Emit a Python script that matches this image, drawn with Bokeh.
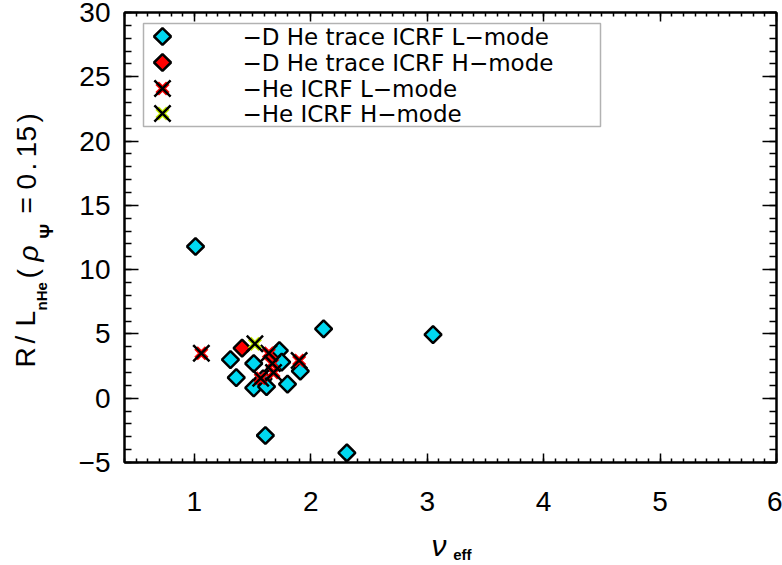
import numpy as np
from bokeh.plotting import figure
from bokeh.layouts import row, column
from bokeh.models import Range1d, LinearAxis, FixedTicker, Label, BoxAnnotation
from bokeh.embed import file_html
from bokeh.resources import INLINE

# ---------------- data ----------------
# D with He trace, ICRF, L-mode (cyan diamonds)
dL_x = [1.01, 1.31, 1.36, 1.51, 1.51, 1.59, 1.62, 1.61, 1.73, 1.75, 1.80, 1.91, 2.11, 2.31, 3.05]
dL_y = [11.8, 3.0, 1.6, 2.7, 0.8, 1.5, 0.9, -2.9, 3.7, 2.8, 1.1, 2.1, 5.4, -4.25, 4.95]
# D with He trace, ICRF, H-mode (red diamonds)
dH_x = [1.41]
dH_y = [3.9]
# He ICRF L-mode (red crosses)
heL_x = [1.06, 1.57, 1.64, 1.67, 1.68, 1.90]
heL_y = [3.5, 1.55, 3.5, 2.7, 2.0, 2.93]
# He ICRF H-mode (yellow crosses)
heH_x = [1.52]
heH_y = [4.23]

labels = ["\u2212D He trace ICRF L\u2212mode",
          "\u2212D He trace ICRF H\u2212mode",
          "\u2212He ICRF L\u2212mode",
          "\u2212He ICRF H\u2212mode"]

x_ticks = [1, 2, 3, 4, 5, 6]
y_ticks = [-5, 0, 5, 10, 15, 20, 25, 30]
XMIN, XMAX = 0.4, 6.0
YMIN, YMAX = -5.0, 30.0

# ---------------- layout (pixels of the 782 x 565 page) ----------------
W, H = 782, 565
TW = 60                      # strip on the left holding the y title
XTH = 35                     # strip at the bottom holding the x title
FL, FT, FR, FB = 124, 12, 776, 462   # plot frame in page pixels
MW = W - TW
MH = H - XTH

CYAN = "#00d8f0"
RED = "#ff0000"
YELLOW = "#c8f000"
TICKFONT = "Liberation Sans"


def dx(px):
    return XMIN + (px - FL) * (XMAX - XMIN) / (FR - FL)


def dy(py):
    return YMAX - (py - FT) * (YMAX - YMIN) / (FB - FT)


p = figure(width=MW, height=MH, x_range=Range1d(XMIN, XMAX), y_range=Range1d(YMIN, YMAX),
           output_backend="svg", toolbar_location=None,
           min_border_left=FL - TW, min_border_right=W - FR,
           min_border_top=FT, min_border_bottom=MH - FB)
p.xgrid.visible = False
p.ygrid.visible = False
p.outline_line_color = "black"
p.outline_line_width = 2
p.background_fill_color = "white"
p.border_fill_color = "white"

x_minor = list(np.round(np.arange(XMIN, XMAX + 1e-9, 0.1), 2))
y_minor = list(range(int(YMIN), int(YMAX) + 1))


def style_axis(ax, major_in, minor_in, show_labels, standoff=0):
    ax.axis_line_width = 2
    ax.axis_line_color = "black"
    ax.major_tick_in = major_in
    ax.major_tick_out = 0
    ax.minor_tick_in = minor_in
    ax.minor_tick_out = 0
    ax.major_tick_line_width = 1.5
    ax.minor_tick_line_width = 1.5
    ax.major_tick_line_color = "black"
    ax.minor_tick_line_color = "black"
    ax.major_label_standoff = standoff
    if show_labels:
        ax.major_label_text_font = TICKFONT
        ax.major_label_text_font_size = "28px"
        ax.major_label_text_color = "black"
    else:
        ax.major_label_text_font_size = "8px"


xb = p.xaxis[0]
xb.ticker = FixedTicker(ticks=x_ticks, minor_ticks=x_minor)
style_axis(xb, 9, 4, True, 29)

yl = p.yaxis[0]
yl.ticker = FixedTicker(ticks=y_ticks, minor_ticks=y_minor)
yl.major_label_overrides = {-5: "\u22125"}
style_axis(yl, 14, 7, True, 14)

xt = LinearAxis(ticker=FixedTicker(ticks=x_ticks, minor_ticks=x_minor))
style_axis(xt, 9, 4, False)
xt.major_label_overrides = {t: "" for t in x_ticks}
p.add_layout(xt, "above")

yr = LinearAxis(ticker=FixedTicker(ticks=y_ticks, minor_ticks=y_minor))
style_axis(yr, 14, 7, False)
yr.major_label_overrides = {t: "" for t in y_ticks}
p.add_layout(yr, "right")

# ---------------- glyphs ----------------
DSIZE = 12


def diamonds(xs, ys, color):
    return p.scatter(xs, ys, marker="square", angle=np.pi / 4, size=DSIZE,
                     fill_color=color, line_color="black", line_width=2.5)


def crosses(xs, ys, color):
    p.scatter(xs, ys, marker="x", size=15, line_color=color, line_width=5)
    p.scatter(xs, ys, marker="x", size=23, line_color="black", line_width=2.5)


diamonds(dL_x, dL_y, CYAN)
diamonds(dH_x, dH_y, RED)
crosses(heL_x, heL_y, RED)
crosses(heH_x, heH_y, YELLOW)

# ---------------- legend (box, symbols, texts) ----------------
LG_L, LG_T, LG_R, LG_B = 143, 23, 600, 126
LG_SYM_X, LG_TXT_X = 162, 242
LG_ROWS = [36, 62, 88, 113]
p.add_layout(BoxAnnotation(left=dx(LG_L), right=dx(LG_R), top=dy(LG_T), bottom=dy(LG_B),
                           fill_color="white", fill_alpha=1.0, line_color="black",
                           line_width=1.5, level="underlay"))
diamonds([dx(LG_SYM_X)], [dy(LG_ROWS[0])], CYAN)
diamonds([dx(LG_SYM_X)], [dy(LG_ROWS[1])], RED)
crosses([dx(LG_SYM_X)], [dy(LG_ROWS[2])], RED)
crosses([dx(LG_SYM_X)], [dy(LG_ROWS[3])], YELLOW)
for lab, ry in zip(labels, LG_ROWS):
    p.add_layout(Label(x=dx(LG_TXT_X), y=dy(ry), text=lab, text_align="left",
                       text_baseline="middle", text_font="DejaVu Sans",
                       text_font_size="23px", text_color="black"))


# ---------------- title strips ----------------
def strip(width, height, x0, y0):
    f = figure(width=width, height=height, x_range=Range1d(x0, x0 + width),
               y_range=Range1d(y0 + height, y0), output_backend="svg",
               toolbar_location=None, x_axis_location=None, y_axis_location=None,
               min_border=0, min_border_left=0, min_border_right=0,
               min_border_top=0, min_border_bottom=0)
    f.xgrid.visible = False
    f.ygrid.visible = False
    f.outline_line_color = None
    f.background_fill_color = "white"
    f.border_fill_color = "white"
    return f


ty = strip(TW, H, 0, 0)
# (text, centre line x px, start y px, font size, style)
ytitle = [("R", 25, 367, 28, "normal"),
          ("/", 25, 343, 28, "normal"),
          ("L", 25, 326, 28, "normal"),
          ("nHe", 41, 310, 15, "bold"),
          ("(", 27, 278, 28, "normal"),
          ("\u03c1", 28, 261, 28, "italic"),
          ("\u03a8", 46, 238, 18, "bold"),
          ("=", 26, 213, 28, "normal"),
          ("0", 26, 189, 28, "normal"),
          (".", 26, 170, 28, "normal"),
          ("1", 26, 157, 28, "normal"),
          ("5", 26, 141, 28, "normal"),
          (")", 27, 122, 28, "normal")]
for t, bx, sy, fs, st in ytitle:
    ty.add_layout(Label(x=bx, y=sy, text=t, angle=90, angle_units="deg",
                        text_align="left", text_baseline="middle",
                        text_font="Liberation Sans", text_font_size=f"{fs}px",
                        text_font_style=st, text_color="black"))

tx = strip(MW, XTH, TW, MH)
xtitle = [("\u03bd", 400, 545, 30, "italic"),
          ("eff", 424, 554, 15, "bold")]
for t, sx, by, fs, st in xtitle:
    tx.add_layout(Label(x=sx, y=by, text=t, text_align="left", text_baseline="middle",
                        text_font="Liberation Sans", text_font_size=f"{fs}px",
                        text_font_style=st, text_color="black"))

page = row(ty, column(p, tx, spacing=0), spacing=0)
open("out.html", "w").write(file_html(page, INLINE))
